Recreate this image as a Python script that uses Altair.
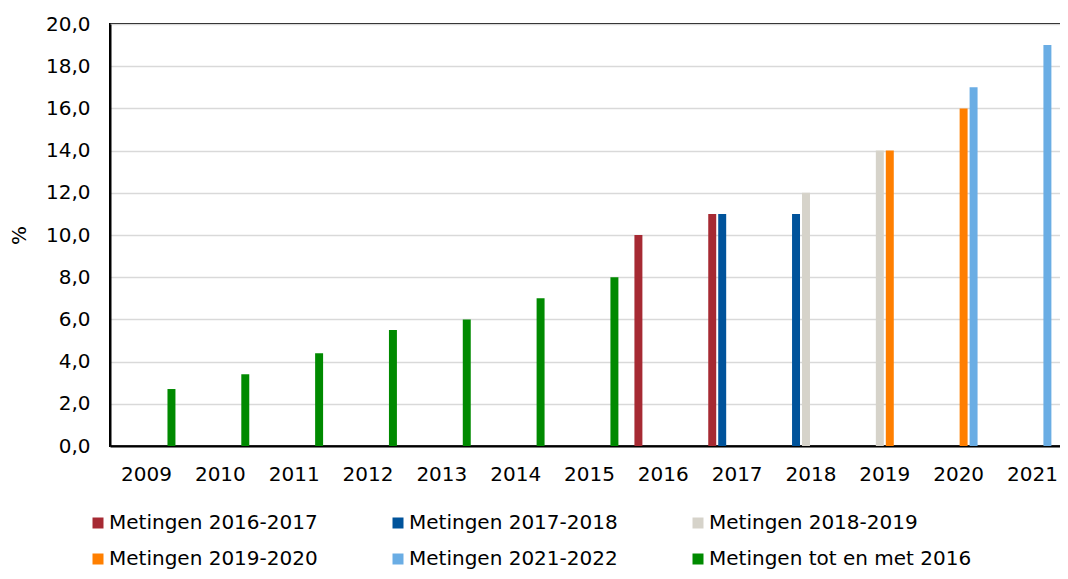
import altair as alt
import pandas as pd

years = [str(y) for y in range(2009, 2022)]
series = ["Metingen 2016-2017", "Metingen 2017-2018", "Metingen 2018-2019",
          "Metingen 2019-2020", "Metingen 2021-2022", "Metingen tot en met 2016"]
colors = ["#A62A33", "#00539B", "#D6D3CA", "#FF7F00", "#6AADE4", "#008A00"]

green_years = ["2009", "2010", "2011", "2012", "2013", "2014", "2015"]
green_vals = [2.7, 3.4, 4.4, 5.5, 6.0, 7.0, 8.0]
red_years = ["2016", "2017"]
red_vals = [10.0, 11.0]
blue_years = ["2017", "2018"]
blue_vals = [11.0, 11.0]
gray_years = ["2018", "2019"]
gray_vals = [12.0, 14.0]
orange_years = ["2019", "2020"]
orange_vals = [14.0, 16.0]
lblue_years = ["2020", "2021"]
lblue_vals = [17.0, 19.0]

rows = []
for name, ys, vs in [
    (series[0], red_years, red_vals),
    (series[1], blue_years, blue_vals),
    (series[2], gray_years, gray_vals),
    (series[3], orange_years, orange_vals),
    (series[4], lblue_years, lblue_vals),
    (series[5], green_years, green_vals),
]:
    for y, v in zip(ys, vs):
        rows.append({"jaar": y, "reeks": name, "waarde": v})
df = pd.DataFrame(rows)

FONT = "DejaVu Sans"

chart = alt.Chart(df).mark_bar().encode(
    x=alt.X("jaar:N", sort=years,
            scale=alt.Scale(domain=years, paddingInner=0.19, paddingOuter=0.09),
            axis=alt.Axis(title=None, labelAngle=0, ticks=False, labelPadding=18,
                          labelFontSize=20, labelFont=FONT, labelColor="black",
                          domainColor="black", domainWidth=2, grid=False)),
    xOffset=alt.XOffset("reeks:N", sort=series,
                        scale=alt.Scale(domain=series, paddingInner=0.2, paddingOuter=0.1)),
    y=alt.Y("waarde:Q",
            scale=alt.Scale(domain=[0, 20], nice=False),
            axis=alt.Axis(title="%", values=list(range(0, 21, 2)), ticks=False,
                          labelPadding=20, labelFontSize=20, labelFont=FONT,
                          labelColor="black",
                          labelExpr="replace(format(datum.value, '.1f'), '.', ',')",
                          titleFontSize=20, titleFont=FONT, titleFontWeight="normal",
                          titleColor="black", titlePadding=16,
                          domainColor="black", domainWidth=2,
                          gridColor="#D9D9D9", gridWidth=1.5)),
    color=alt.Color("reeks:N", sort=series,
                    scale=alt.Scale(domain=series, range=colors),
                    legend=alt.Legend(title=None, orient="none", legendX=-22, legendY=489,
                                      direction="horizontal", columns=3,
                                      symbolType="square", symbolSize=121,
                                      symbolStrokeWidth=0, labelOffset=1,
                                      labelFontSize=20, labelFont=FONT, labelColor="black",
                                      rowPadding=16, columnPadding=70,
                                      labelLimit=400)),
).properties(
    width=959,
    height=422,
    autosize=alt.AutoSizeParams(type="none"),
    padding={"left": 102, "top": 16, "right": -9, "bottom": 125},
).configure_view(
    stroke="black", strokeWidth=2
)

chart.save("out.html", embed_options={"renderer": "svg", "actions": False})
